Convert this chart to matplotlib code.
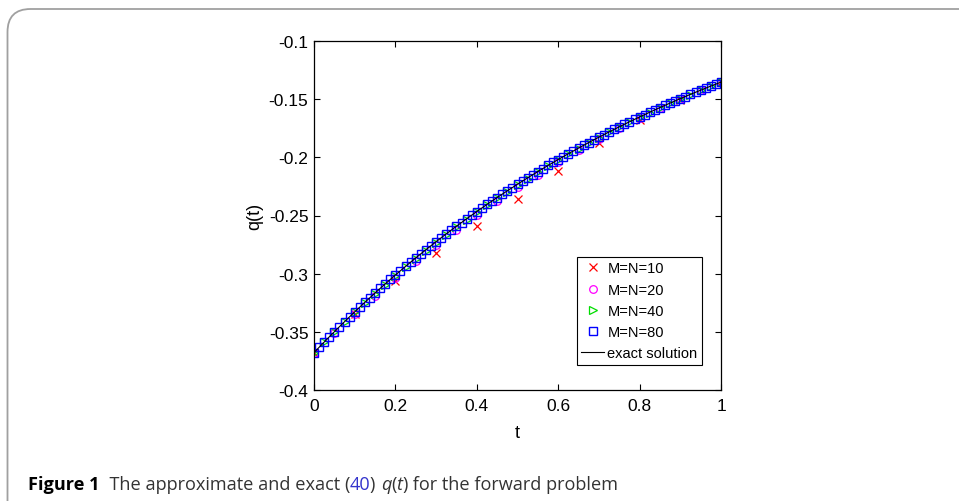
import matplotlib
matplotlib.use("Agg")
import matplotlib.pyplot as plt
from matplotlib.patches import FancyBboxPatch

plt.rcParams['font.family'] = ['Liberation Sans', 'DejaVu Sans']

# Approximate q(t) for several grid sizes, and the exact solution
t10 = [0.0, 0.1, 0.2, 0.3, 0.4, 0.5, 0.6, 0.7, 0.8, 0.9, 1.0]
q10 = [-0.3679, -0.3349, -0.3065, -0.2824, -0.2592, -0.2359,
       -0.2118, -0.1878, -0.1680, -0.1505, -0.1353]

t20 = [0.0, 0.05, 0.1, 0.15, 0.2, 0.25, 0.3, 0.35, 0.4, 0.45, 0.5,
       0.55, 0.6, 0.65, 0.7, 0.75, 0.8, 0.85, 0.9, 0.95, 1.0]
q20 = [-0.3679, -0.3509, -0.3347, -0.3189, -0.3039, -0.2894, -0.2755,
       -0.2622, -0.2496, -0.2375, -0.2258, -0.2148, -0.2041, -0.1940,
       -0.1843, -0.1751, -0.1663, -0.1579, -0.1500, -0.1425, -0.1353]

t40 = [0.0, 0.025, 0.05, 0.075, 0.1, 0.125, 0.15, 0.175, 0.2, 0.225,
       0.25, 0.275, 0.3, 0.325, 0.35, 0.375, 0.4, 0.425, 0.45, 0.475,
       0.5, 0.525, 0.55, 0.575, 0.6, 0.625, 0.65, 0.675, 0.7, 0.725,
       0.75, 0.775, 0.8, 0.825, 0.85, 0.875, 0.9, 0.925, 0.95, 0.975, 1.0]
q40 = [-0.3679, -0.3591, -0.3501, -0.3417, -0.3333, -0.3251, -0.3172,
       -0.3094, -0.3019, -0.2944, -0.2872, -0.2801, -0.2733, -0.2665,
       -0.2600, -0.2535, -0.2473, -0.2412, -0.2352, -0.2294, -0.2237,
       -0.2182, -0.2128, -0.2075, -0.2024, -0.1974, -0.1925, -0.1877,
       -0.1831, -0.1785, -0.1741, -0.1698, -0.1656, -0.1615, -0.1574,
       -0.1535, -0.1497, -0.1460, -0.1424, -0.1388, -0.1353]

t80 = [0.0, 0.0125, 0.025, 0.0375, 0.05, 0.0625, 0.075, 0.0875,
       0.1, 0.1125, 0.125, 0.1375, 0.15, 0.1625, 0.175, 0.1875,
       0.2, 0.2125, 0.225, 0.2375, 0.25, 0.2625, 0.275, 0.2875,
       0.3, 0.3125, 0.325, 0.3375, 0.35, 0.3625, 0.375, 0.3875,
       0.4, 0.4125, 0.425, 0.4375, 0.45, 0.4625, 0.475, 0.4875,
       0.5, 0.5125, 0.525, 0.5375, 0.55, 0.5625, 0.575, 0.5875,
       0.6, 0.6125, 0.625, 0.6375, 0.65, 0.6625, 0.675, 0.6875,
       0.7, 0.7125, 0.725, 0.7375, 0.75, 0.7625, 0.775, 0.7875,
       0.8, 0.8125, 0.825, 0.8375, 0.85, 0.8625, 0.875, 0.8875,
       0.9, 0.9125, 0.925, 0.9375, 0.95, 0.9625, 0.975, 0.9875, 1.0]
q80 = [-0.36788, -0.36331, -0.35880, -0.35434, -0.34994, -0.34559, -0.34130, -0.33706,
       -0.33287, -0.32874, -0.32465, -0.32062, -0.31664, -0.31270, -0.30882, -0.30498,
       -0.30119, -0.29745, -0.29375, -0.29010, -0.28650, -0.28294, -0.27943, -0.27596,
       -0.27253, -0.26914, -0.26580, -0.26250, -0.25924, -0.25602, -0.25284, -0.24970,
       -0.24660, -0.24354, -0.24051, -0.23752, -0.23457, -0.23166, -0.22878, -0.22594,
       -0.22313, -0.22036, -0.21762, -0.21492, -0.21225, -0.20961, -0.20701, -0.20444,
       -0.20190, -0.19939, -0.19691, -0.19447, -0.19205, -0.18967, -0.18731, -0.18498,
       -0.18268, -0.18041, -0.17817, -0.17596, -0.17377, -0.17161, -0.16948, -0.16738,
       -0.16530, -0.16325, -0.16122, -0.15921, -0.15724, -0.15528, -0.15336, -0.15145,
       -0.14957, -0.14771, -0.14588, -0.14406, -0.14228, -0.14051, -0.13876, -0.13704,
       -0.13534]

t_exact = t80
q_exact = q80

labels = ['M=N=10', 'M=N=20', 'M=N=40', 'M=N=80', 'exact solution']
xticks = [0, 0.2, 0.4, 0.6, 0.8, 1]
xtick_labels = ['0', '0.2', '0.4', '0.6', '0.8', '1']
yticks = [-0.4, -0.35, -0.3, -0.25, -0.2, -0.15, -0.1]
ytick_labels = ['-0.4', '-0.35', '-0.3', '-0.25', '-0.2', '-0.15', '-0.1']

W, H = 959, 502
fig = plt.figure(figsize=(W / 100, H / 100), dpi=100)

# rounded panel frame around figure and caption
frame = FancyBboxPatch((7.5 / W, -40 / H), 1100 / W, (H - 10 + 40) / H,
                       boxstyle="round,pad=0,rounding_size=0.024",
                       transform=fig.transFigure, facecolor='none',
                       edgecolor='#a0a0a0', linewidth=1.3, mutation_aspect=W / H)
fig.patches.append(frame)

ax = fig.add_axes([314 / W, 1 - 391 / H, (721 - 314) / W, (391 - 42) / H])

ax.plot(t10, q10, linestyle='none', marker='x', color='#ff0000',
        markersize=5.5, markeredgewidth=0.9, label=labels[0])
ax.plot(t20, q20, linestyle='none', marker='o', color='#ff00ff',
        markerfacecolor='none', markersize=5.5, markeredgewidth=0.9, label=labels[1])
ax.plot(t40, q40, linestyle='none', marker='>', color='#00dd00',
        markerfacecolor='none', markersize=5.5, markeredgewidth=0.9, label=labels[2])
ax.plot(t80, q80, linestyle='none', marker='s', color='#0000ff',
        markerfacecolor='none', markersize=6, markeredgewidth=1.0, label=labels[3])
ax.plot(t_exact, q_exact, color='black', linewidth=0.8, label=labels[4])

ax.set_xlim(0, 1)
ax.set_ylim(-0.4, -0.1)
ax.set_xticks(xticks)
ax.set_xticklabels(xtick_labels)
ax.set_yticks(yticks)
ax.set_yticklabels(ytick_labels)
ax.tick_params(direction='in', length=4, width=0.8, top=True, right=True,
               labelsize=12.5)
ax.tick_params(axis='y', pad=4)
ax.tick_params(axis='x', pad=6)
for s in ax.spines.values():
    s.set_linewidth(0.9)

ax.set_xlabel('t', fontsize=13, labelpad=8)
ax.set_ylabel('q(t)', fontsize=13, labelpad=4)

leg = ax.legend(loc='lower right', bbox_to_anchor=(0.953, 0.072),
                borderaxespad=0, fontsize=10.5, fancybox=False,
                edgecolor='black', framealpha=1, handlelength=1.6,
                handletextpad=0.2, labelspacing=0.5, borderpad=0.3)
leg.get_frame().set_linewidth(0.8)

# caption, assembled piece by piece
renderer = fig.canvas.get_renderer()
cap_y = 1 - 490 / H
x = 28 / W
pieces = [
    ('Figure 1', dict(weight='bold', color='black')),
    ('  The approximate and exact ', dict(color='#333333')),
    ('(', dict(color='#333333')),
    ('40', dict(color='#3333cc')),
    (') ', dict(color='#333333')),
    ('q', dict(color='#333333', style='italic')),
    ('(', dict(color='#333333')),
    ('t', dict(color='#333333', style='italic')),
    (')', dict(color='#333333')),
    (' for the forward problem', dict(color='#333333')),
]
for txt, kw in pieces:
    tobj = fig.text(x, cap_y, txt, fontsize=13.1, family=['Open Sans', 'DejaVu Sans'],
                    va='baseline', ha='left', **kw)
    bb = tobj.get_window_extent(renderer=renderer)
    x += bb.width / W

fig.savefig('out.png', dpi=100)
